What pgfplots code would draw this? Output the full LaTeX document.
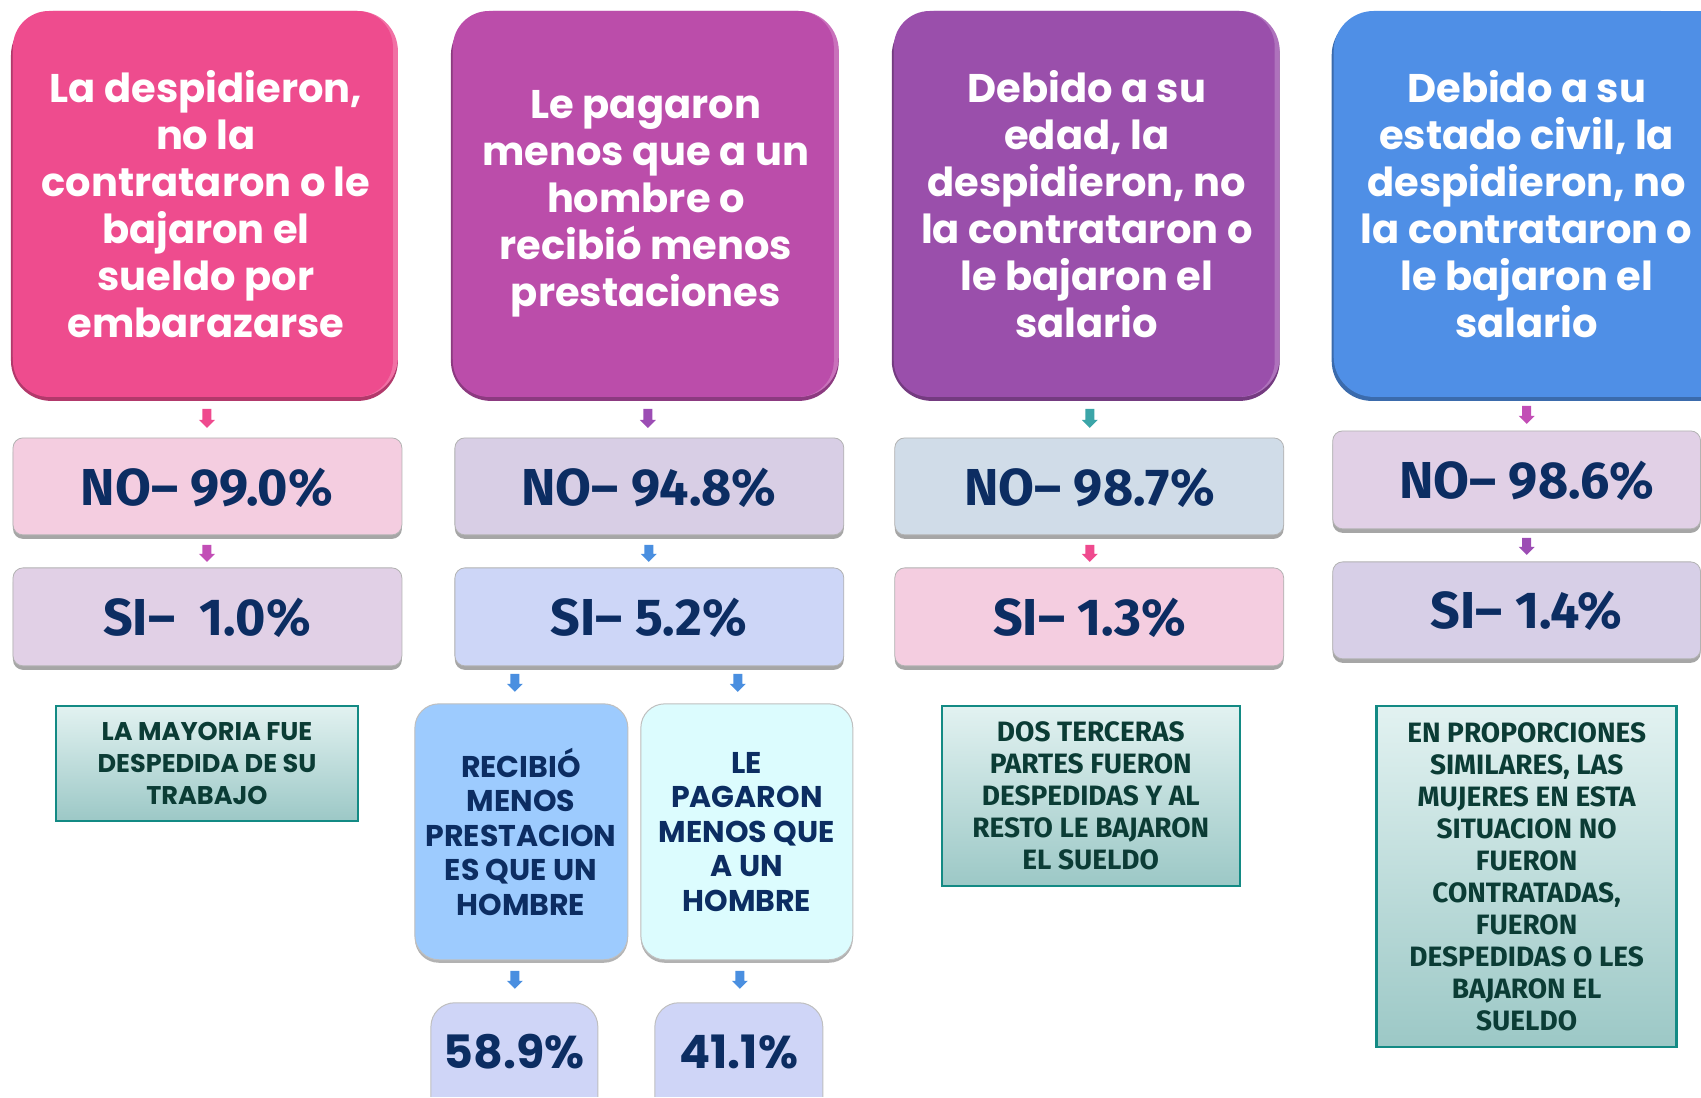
\documentclass[border=0pt]{standalone}
\usepackage{pgfplots}
\pgfplotsset{compat=1.18}
\usepackage{fontspec}
\setmainfont{Poppins}
\newfontfamily\tw{Fira Sans}
\definecolor{tpink}{HTML}{EE4C8E}
\definecolor{tmag}{HTML}{BB4DAA}
\definecolor{tpur}{HTML}{9A4FAB}
\definecolor{tblue}{HTML}{4F8FE6}
\definecolor{noA}{HTML}{F4CDE0}
\definecolor{siA}{HTML}{E1D0E6}
\definecolor{noB}{HTML}{D8CEE5}
\definecolor{siB}{HTML}{CDD6F7}
\definecolor{noC}{HTML}{D0DCE8}
\definecolor{siC}{HTML}{F4CDE0}
\definecolor{noD}{HTML}{E1D0E6}
\definecolor{siD}{HTML}{D7CFE7}
\definecolor{subL}{HTML}{9DCBFE}
\definecolor{subR}{HTML}{DCFCFE}
\definecolor{pct}{HTML}{CFD5F7}
\definecolor{navy}{HTML}{0C2D62}
\definecolor{ttext}{HTML}{0B3C35}
\definecolor{tborder}{HTML}{138A84}
\definecolor{ttop}{HTML}{E2F2F1}
\definecolor{tbot}{HTML}{9CC8C6}
\definecolor{arPink}{HTML}{EF4A8E}
\definecolor{arMag}{HTML}{C24EB6}
\definecolor{arPur}{HTML}{9C4DB4}
\definecolor{arBlue}{HTML}{4A8FE0}
\definecolor{arTeal}{HTML}{3BA5A8}
\newcommand{\titlebox}[5]{%
  \fill[#5!75!black, rounded corners=20pt] (axis cs:#1-2,#2+4) rectangle (axis cs:#3,#4+4);
  \fill[#5!80!white, rounded corners=20pt] (axis cs:#1,#2) rectangle (axis cs:#3,#4);
  \fill[#5, rounded corners=18pt] (axis cs:#1,#2) rectangle (axis cs:#3-5,#4);
}
\newcommand{\valbox}[5]{%
  \fill[black!35, rounded corners=5pt] (axis cs:#1,#2+4) rectangle (axis cs:#3,#4+4);
  \filldraw[fill=#5, draw=black!30, line width=0.4pt, rounded corners=5pt] (axis cs:#1,#2) rectangle (axis cs:#3,#4);
}
\newcommand{\subbox}[5]{%
  \fill[black!30, rounded corners=12pt] (axis cs:#1,#2+3) rectangle (axis cs:#3,#4+3);
  \filldraw[fill=#5, draw=black!25, line width=0.5pt, rounded corners=12pt] (axis cs:#1,#2) rectangle (axis cs:#3,#4);
}
\newcommand{\tealbox}[4]{%
  \shade[top color=ttop, bottom color=tbot] (axis cs:#1,#2) rectangle (axis cs:#3,#4);
  \draw[tborder, line width=1.2pt] (axis cs:#1,#2) rectangle (axis cs:#3,#4);
}
\newcommand{\darrow}[4]{%
  \fill[#4] (axis cs:#1-4.5,#2) -- (axis cs:#1+4.5,#2) -- (axis cs:#1+4.5,#3-8) -- (axis cs:#1+8,#3-8)
     -- (axis cs:#1,#3) -- (axis cs:#1-8,#3-8) -- (axis cs:#1-4.5,#3-8) -- cycle;
}
\begin{document}
\begin{tikzpicture}
\begin{axis}[
  width=850.5pt, height=548.5pt, scale only axis,
  xmin=0, xmax=1701, ymin=0, ymax=1097, y dir=reverse,
  hide axis, clip=false,
]
\addplot[draw=none, forget plot] coordinates {(0,0) (1701,1097)};
\titlebox{13}{11}{398}{397}{tpink}
\titlebox{453}{11}{839}{397}{tmag}
\titlebox{894}{11}{1280}{397}{tpur}
\fill[tblue!75!black, rounded corners=20pt] (axis cs:1332,15) rectangle (axis cs:1701,401);
\fill[tblue!75!black] (axis cs:1640,15) rectangle (axis cs:1701,401);
\fill[tblue, rounded corners=20pt] (axis cs:1334,11) rectangle (axis cs:1701,397);
\fill[tblue] (axis cs:1640,11) rectangle (axis cs:1701,397);
\begin{scope}[every node/.style={text=white, align=center, font=\bfseries\fontsize{20pt}{23.5pt}\selectfont}]
\node at (axis cs:206,204) {La despidieron,\\no la\\contrataron o le\\bajaron el\\sueldo por\\embarazarse};
\node at (axis cs:646,204) {Le pagaron\\menos que a un\\hombre o\\recibió menos\\prestaciones};
\node at (axis cs:1087,204) {Debido a su\\edad, la\\despidieron, no\\la contrataron o\\le bajaron el\\salario};
\node at (axis cs:1527,204) {Debido a su\\estado civil, la\\despidieron, no\\la contrataron o\\le bajaron el\\salario};
\end{scope}
\darrow{207}{409}{428}{arPink}
\darrow{648}{409}{428}{arPur}
\darrow{1090}{409}{428}{arTeal}
\darrow{1527}{406}{424}{arMag}
\valbox{13}{438}{402}{535}{noA}
\valbox{455}{438}{844}{535}{noB}
\valbox{895}{438}{1284}{535}{noC}
\fill[black!35, rounded corners=5pt] (axis cs:1333,435) rectangle (axis cs:1701,533);
\filldraw[fill=noD, draw=black!30, line width=0.4pt, rounded corners=5pt] (axis cs:1333,431) -- (axis cs:1701,431) -- (axis cs:1701,529) -- (axis cs:1333,529) -- cycle;
\darrow{207}{545}{562}{arMag}
\darrow{649}{545}{562}{arBlue}
\darrow{1090}{545}{562}{arPink}
\darrow{1527}{538}{555}{arPur}
\valbox{13}{568}{402}{666}{siA}
\valbox{455}{568}{844}{666}{siB}
\valbox{895}{568}{1284}{666}{siC}
\fill[black!35, rounded corners=5pt] (axis cs:1333,566) rectangle (axis cs:1701,663);
\filldraw[fill=siD, draw=black!30, line width=0.4pt, rounded corners=5pt] (axis cs:1333,562) -- (axis cs:1701,562) -- (axis cs:1701,659) -- (axis cs:1333,659) -- cycle;
\begin{scope}[every node/.style={text=navy, align=center, font=\tw\bfseries\fontsize{26pt}{30pt}\selectfont}]
\node at (axis cs:207,488) {NO– 99.0\%};
\node at (axis cs:649,488) {NO– 94.8\%};
\node at (axis cs:1090,488) {NO– 98.7\%};
\node at (axis cs:1527,481) {NO– 98.6\%};
\node at (axis cs:207,618) {SI–\ \ 1.0\%};
\node at (axis cs:649,618) {SI– 5.2\%};
\node at (axis cs:1090,618) {SI– 1.3\%};
\node at (axis cs:1527,611) {SI– 1.4\%};
\end{scope}
\darrow{515}{674}{692}{arBlue}
\darrow{738}{674}{692}{arBlue}
\subbox{415}{704}{628}{960}{subL}
\subbox{641}{704}{853}{960}{subR}
\begin{scope}[every node/.style={text=navy, align=center, font=\bfseries\fontsize{15pt}{17.2pt}\selectfont}]
\node at (axis cs:521,832) {RECIBIÓ\\MENOS\\PRESTACION\\ES QUE UN\\HOMBRE};
\node at (axis cs:747,832) {LE\\PAGARON\\MENOS QUE\\A UN\\HOMBRE};
\end{scope}
\darrow{515}{971}{989}{arBlue}
\darrow{740}{971}{989}{arBlue}
\filldraw[fill=pct, draw=black!25, line width=0.5pt, rounded corners=12pt] (axis cs:431,1097) -- (axis cs:431,1003) -- (axis cs:598,1003) -- (axis cs:598,1097);
\filldraw[fill=pct, draw=black!25, line width=0.5pt, rounded corners=12pt] (axis cs:655,1097) -- (axis cs:655,1003) -- (axis cs:823,1003) -- (axis cs:823,1097);
\begin{scope}[every node/.style={text=navy, align=center, font=\bfseries\fontsize{23pt}{28pt}\selectfont}]
\node at (axis cs:514,1052) {58.9\%};
\node at (axis cs:739,1052) {41.1\%};
\end{scope}
\tealbox{56}{706}{358}{821}
\tealbox{942}{706}{1240}{886}
\tealbox{1377}{706}{1677}{1047}
\node[text=ttext, align=center, font=\bfseries\fontsize{12.8pt}{16pt}\selectfont] at (axis cs:207,764) {LA MAYORIA FUE\\DESPEDIDA DE SU\\TRABAJO};
\begin{scope}[every node/.style={text=ttext, align=center, font=\tw\bfseries\fontsize{14pt}{16pt}\selectfont}]
\node at (axis cs:1091,796) {DOS TERCERAS\\PARTES FUERON\\DESPEDIDAS Y AL\\RESTO LE BAJARON\\EL SUELDO};
\node at (axis cs:1527,877) {EN PROPORCIONES\\SIMILARES, LAS\\MUJERES EN ESTA\\SITUACION NO\\FUERON\\CONTRATADAS,\\FUERON\\DESPEDIDAS O LES\\BAJARON EL\\SUELDO};
\end{scope}
\end{axis}
\end{tikzpicture}
\end{document}
